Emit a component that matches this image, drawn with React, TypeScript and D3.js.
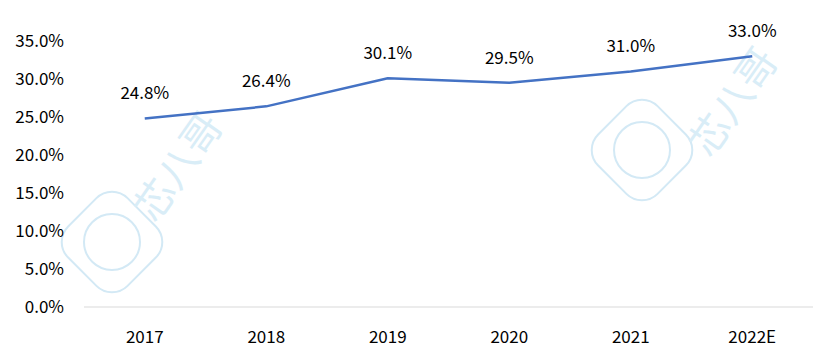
import React, { useEffect, useRef } from 'react';
import * as d3 from 'd3';

const years = ['2017', '2018', '2019', '2020', '2021', '2022E'];
const shares = [24.8, 26.4, 30.1, 29.5, 31.0, 33.0];
const yTicks = [0, 5, 10, 15, 20, 25, 30, 35];

function App() {
  const ref = useRef<SVGSVGElement>(null);

  useEffect(() => {
    const svg = d3.select(ref.current);
    svg.selectAll('*').remove();

    const width = 819, height = 354;
    const margin = { top: 41, right: 6, bottom: 47, left: 84 };
    const font = '"Noto Sans CJK SC", "Noto Sans", sans-serif';

    // faint watermark
    const wm = svg.append('g').attr('fill', 'none').attr('stroke', '#d3e9f5').attr('stroke-width', 2);
    [[112, 242], [642, 150]].forEach(([cx, cy]) => {
      wm.append('rect')
        .attr('x', cx - 42).attr('y', cy - 42).attr('width', 84).attr('height', 84)
        .attr('rx', 22)
        .attr('transform', `rotate(45 ${cx} ${cy})`);
      wm.append('circle').attr('cx', cx).attr('cy', cy).attr('r', 28);
    });
    [[190, 175], [745, 110]].forEach(([x, y]) => {
      svg.append('text')
        .attr('transform', `translate(${x},${y}) rotate(-55)`)
        .attr('text-anchor', 'middle')
        .attr('font-family', font)
        .attr('font-size', 40)
        .attr('fill', '#d9edf7')
        .text('芯八哥');
    });

    const x = d3.scaleBand()
      .domain(years)
      .range([margin.left, width - margin.right]);

    const y = d3.scaleLinear()
      .domain([0, 35])
      .range([height - margin.bottom, margin.top]);

    // y-axis labels
    svg.append('g')
      .selectAll('text')
      .data(yTicks)
      .join('text')
      .attr('x', 64)
      .attr('y', d => y(d))
      .attr('dy', '0.35em')
      .attr('text-anchor', 'end')
      .attr('font-family', font)
      .attr('font-size', 17)
      .attr('fill', '#000')
      .text(d => d.toFixed(1) + '%');

    // x-axis baseline
    svg.append('line')
      .attr('x1', margin.left)
      .attr('x2', width - margin.right)
      .attr('y1', y(0))
      .attr('y2', y(0))
      .attr('stroke', '#d9d9d9')
      .attr('stroke-width', 1);

    // x-axis labels
    svg.append('g')
      .selectAll('text')
      .data(years)
      .join('text')
      .attr('x', d => x(d)! + x.bandwidth() / 2)
      .attr('y', 337)
      .attr('dy', '0.35em')
      .attr('text-anchor', 'middle')
      .attr('font-family', font)
      .attr('font-size', 17)
      .attr('fill', '#000')
      .text(d => d);

    const pts = years.map((yr, i) => ({ yr, v: shares[i] }));

    const line = d3.line<{ yr: string; v: number }>()
      .x(d => x(d.yr)! + x.bandwidth() / 2)
      .y(d => y(d.v));

    svg.append('path')
      .datum(pts)
      .attr('fill', 'none')
      .attr('stroke', '#4472C4')
      .attr('stroke-width', 2.5)
      .attr('stroke-linejoin', 'round')
      .attr('d', line);

    // value labels
    svg.append('g')
      .selectAll('text')
      .data(pts)
      .join('text')
      .attr('x', d => x(d.yr)! + x.bandwidth() / 2)
      .attr('y', d => y(d.v) - 25)
      .attr('dy', '0.35em')
      .attr('text-anchor', 'middle')
      .attr('font-family', font)
      .attr('font-size', 17)
      .attr('fill', '#000')
      .text(d => d.v.toFixed(1) + '%');
  }, []);

  return <svg ref={ref} width="819" height="354" style={{ display: 'block', position: 'absolute', left: 0, top: 0 }}></svg>;
}

export default App;
